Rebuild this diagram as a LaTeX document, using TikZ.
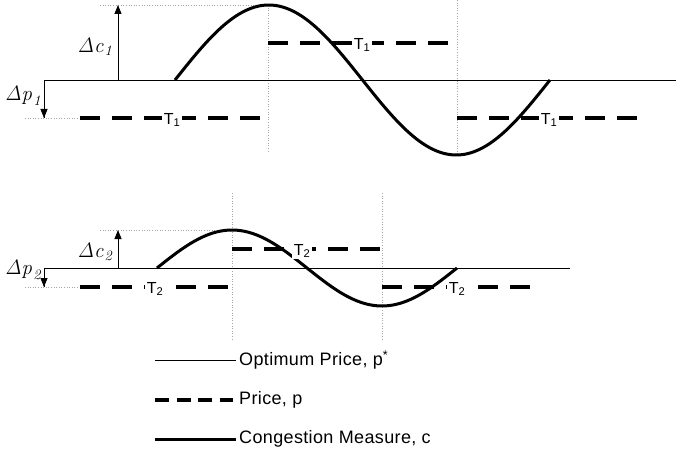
\documentclass[tikz,border=0pt]{standalone}
\usepackage{amsmath}
\usepackage[no-math]{fontspec}
\setmainfont{Liberation Sans}
\newfontfamily\keyfont[LetterSpace=2]{Liberation Sans}
\usetikzlibrary{arrows.meta}

\tikzset{
	optline/.style={black, line width=0.8pt},
	priceline/.style={black, line width=3.6pt, dash pattern=on 20pt off 12pt},
	congline/.style={black, line width=3pt},
	guide/.style={gray!70, line width=0.6pt, dotted},
	measure/.style={black, line width=0.8pt, -{Triangle[width=7pt,length=9pt]}},
	tlabel/.style={fill=white, inner sep=1.5pt, font=\fontsize{16}{18}\selectfont},
	dlabel/.style={inner sep=0pt, font=\fontsize{21}{24}\selectfont},
	keytext/.style={anchor=west, font=\keyfont\fontsize{18}{20}\selectfont}
}

\begin{document}
\begin{tikzpicture}[x=1pt,y=1pt]
			\useasboundingbox (0,0) rectangle (676,-449);
			\tikzstyle{every node}+=[inner sep=0pt]
			\draw [guide] (268,-5) -- (268,-153);
			\draw [guide] (457,0) -- (457,-155);
			\draw [guide] (100,-5) -- (268,-5);
			\draw [guide] (25,-118) -- (80,-118);
			\draw [optline] (44,-118) -- (44,-80) -- (676,-80);
			\coordinate (c1base) at (118,-80);
			\coordinate (c1top) at (118,-5);
			\coordinate (p1base) at (44,-80);
			\coordinate (p1bot) at (44,-118);
			\draw [measure] (c1base) -- (c1top);
			\draw [measure] (p1base) -- (p1bot);
			\draw [priceline] (80,-118) -- (265,-118);
			\draw [priceline] (268,-43) -- (453,-43);
			\draw [priceline] (457,-118) -- (642,-118);
			\draw [congline] plot[domain=175:550, samples=80, smooth] (\x, {-80+75*sin((\x-175)*0.96)});
			\node [tlabel] (t1a) at (172,-120) {T\textsubscript{1}};
			\node [tlabel] (t1b) at (362,-45) {T\textsubscript{1}};
			\node [tlabel] (t1c) at (549,-120) {T\textsubscript{1}};
			\node [dlabel] (dc1) at (96,-47) {$\mathit{\Delta c}_{\mathit{1}}$};
			\node [dlabel] (dp1) at (24,-96) {$\mathit{\Delta p}_{\mathit{1}}$};
			\draw [guide] (232,-193) -- (232,-340);
			\draw [guide] (382,-193) -- (382,-340);
			\draw [guide] (100,-230) -- (232,-230);
			\draw [guide] (25,-287) -- (80,-287);
			\draw [optline] (44,-287) -- (44,-268) -- (570,-268);
			\coordinate (c2base) at (118,-268);
			\coordinate (c2top) at (118,-230);
			\coordinate (p2base) at (44,-268);
			\coordinate (p2bot) at (44,-287);
			\draw [measure] (c2base) -- (c2top);
			\draw [measure] (p2base) -- (p2bot);
			\draw [priceline] (80,-287) -- (232,-287);
			\draw [priceline] (232,-249) -- (383,-249);
			\draw [priceline] (382,-287) -- (534,-287);
			\draw [congline] plot[domain=157:457, samples=80, smooth] (\x, {-268+38*sin((\x-157)*1.2)});
			\node [tlabel] (t2a) at (155,-289) {T\textsubscript{2}};
			\node [tlabel] (t2b) at (302,-251) {T\textsubscript{2}};
			\node [tlabel] (t2c) at (457,-289) {T\textsubscript{2}};
			\node [dlabel] (dc2) at (96,-252) {$\mathit{\Delta c}_{\mathit{2}}$};
			\node [dlabel] (dp2) at (24,-270) {$\mathit{\Delta p}_{\mathit{2}}$};
			\coordinate (k1a) at (155,-360);
			\coordinate (k1b) at (236,-360);
			\coordinate (k2a) at (155,-400);
			\coordinate (k2b) at (233,-400);
			\coordinate (k3a) at (155,-439);
			\coordinate (k3b) at (236,-439);
			\draw [optline] (k1a) -- (k1b);
			\draw [priceline, dash pattern=on 14pt off 7.5pt] (k2a) -- (k2b);
			\draw [congline] (k3a) -- (k3b);
			\node [keytext] (key1) at (239,-360) {Optimum Price, p\textsuperscript{*}};
			\node [keytext] (key2) at (239,-400) {Price, p};
			\node [keytext] (key3) at (239,-439) {Congestion Measure, c};
		\end{tikzpicture}
\end{document}
